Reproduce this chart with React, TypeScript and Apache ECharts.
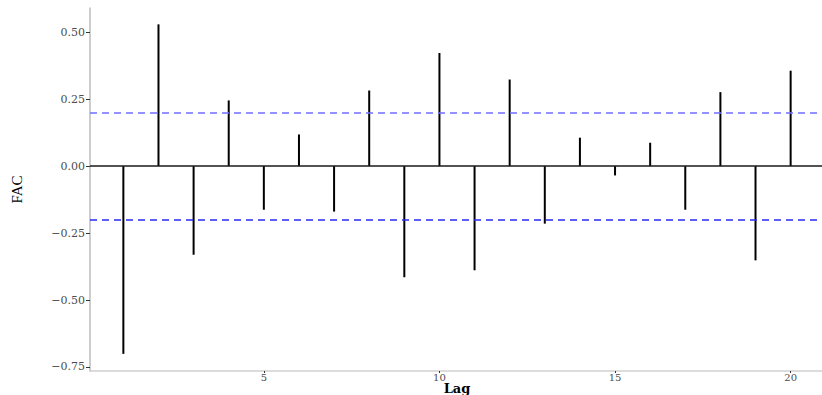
import React, { useEffect, useRef } from "react";
import * as echarts from "echarts";

// Autocorrelation estimates for lags 1..20
const lags = [1, 2, 3, 4, 5, 6, 7, 8, 9, 10, 11, 12, 13, 14, 15, 16, 17, 18, 19, 20];
const acf = [
  -0.701, 0.529, -0.331, 0.245, -0.163, 0.118, -0.17, 0.282, -0.415, 0.422,
  -0.389, 0.323, -0.215, 0.106, -0.035, 0.087, -0.163, 0.276, -0.352, 0.356,
];
// Significance bounds (±2/sqrt(n))
const upperBound = 0.196;
const lowerBound = -0.198;

const yTicks = [-0.75, -0.5, -0.25, 0, 0.25, 0.5];
const xTicks = [5, 10, 15, 20];

const serif = "'DejaVu Serif', 'Liberation Serif', serif";

export default function App() {
  const ref = useRef<HTMLDivElement>(null);

  useEffect(() => {
    document.body.style.margin = "0";
    if (!ref.current) return;
    const chart = echarts.init(ref.current, null, { renderer: "svg" });

    const stems = lags.map((l, i) => [l, acf[i]]);

    chart.setOption({
      animation: false,
      backgroundColor: "#ffffff",
      grid: {
        left: 90,
        top: 8,
        width: 734,
        height: 363,
        containLabel: false,
        outerBoundsMode: "none",
      },
      xAxis: {
        type: "value",
        min: 0.05,
        max: 20.95,
        name: "Lag",
        nameLocation: "middle",
        nameGap: 11,
        nameMoveOverlap: false,
        nameTextStyle: {
          fontFamily: serif,
          fontWeight: "bold",
          fontSize: 13,
          lineHeight: 13,
          color: "#000",
          verticalAlign: "top",
        },
        axisLine: { onZero: false, lineStyle: { color: "#d0d0d0", width: 1.5 } },
        axisTick: {
          show: true,
          length: 2,
          customValues: xTicks,
          lineStyle: { color: "#333", width: 1 },
        },
        axisLabel: {
          customValues: xTicks,
          fontFamily: serif,
          fontSize: 10,
          lineHeight: 9,
          color: "#4d4d4d",
          margin: 2,
        },
        splitLine: { show: false },
      },
      yAxis: {
        type: "value",
        min: -0.765,
        max: 0.59,
        name: "FAC",
        nameLocation: "middle",
        nameGap: 66,
        nameRotate: 90,
        nameMoveOverlap: false,
        nameTextStyle: {
          fontFamily: "'Liberation Serif', serif",
          fontSize: 15,
          color: "#000",
        },
        axisLine: { show: true, lineStyle: { color: "#bdbdbd", width: 1.5 } },
        axisTick: {
          show: true,
          length: 4,
          customValues: yTicks,
          lineStyle: { color: "#333", width: 1 },
        },
        axisLabel: {
          customValues: yTicks,
          fontFamily: serif,
          fontSize: 11,
          color: "#4d4d4d",
          margin: 5,
          formatter: (v: number) => (v < 0 ? "\u2212" + Math.abs(v).toFixed(2) : v.toFixed(2)),
        },
        splitLine: { show: false },
      },
      series: [
        {
          type: "custom",
          data: stems,
          renderItem: (_params: any, api: any) => {
            const x = api.value(0);
            const y = api.value(1);
            const p0 = api.coord([x, 0]);
            const p1 = api.coord([x, y]);
            return {
              type: "line",
              shape: { x1: p0[0], y1: p0[1], x2: p1[0], y2: p1[1] },
              style: { stroke: "#000", lineWidth: 2 },
            };
          },
          markLine: {
            silent: true,
            symbol: "none",
            label: { show: false },
            data: [
              { yAxis: 0, lineStyle: { color: "#1a1a1a", width: 1.5, type: "solid" } },
              { yAxis: upperBound, lineStyle: { color: "#7070ff", width: 1.5, type: [7, 5] } },
              { yAxis: lowerBound, lineStyle: { color: "#2a2af0", width: 1.5, type: [7, 5] } },
            ],
          },
        },
      ],
    });

    return () => chart.dispose();
  }, []);

  return <div ref={ref} style={{ width: 822, height: 395 }} />;
}
